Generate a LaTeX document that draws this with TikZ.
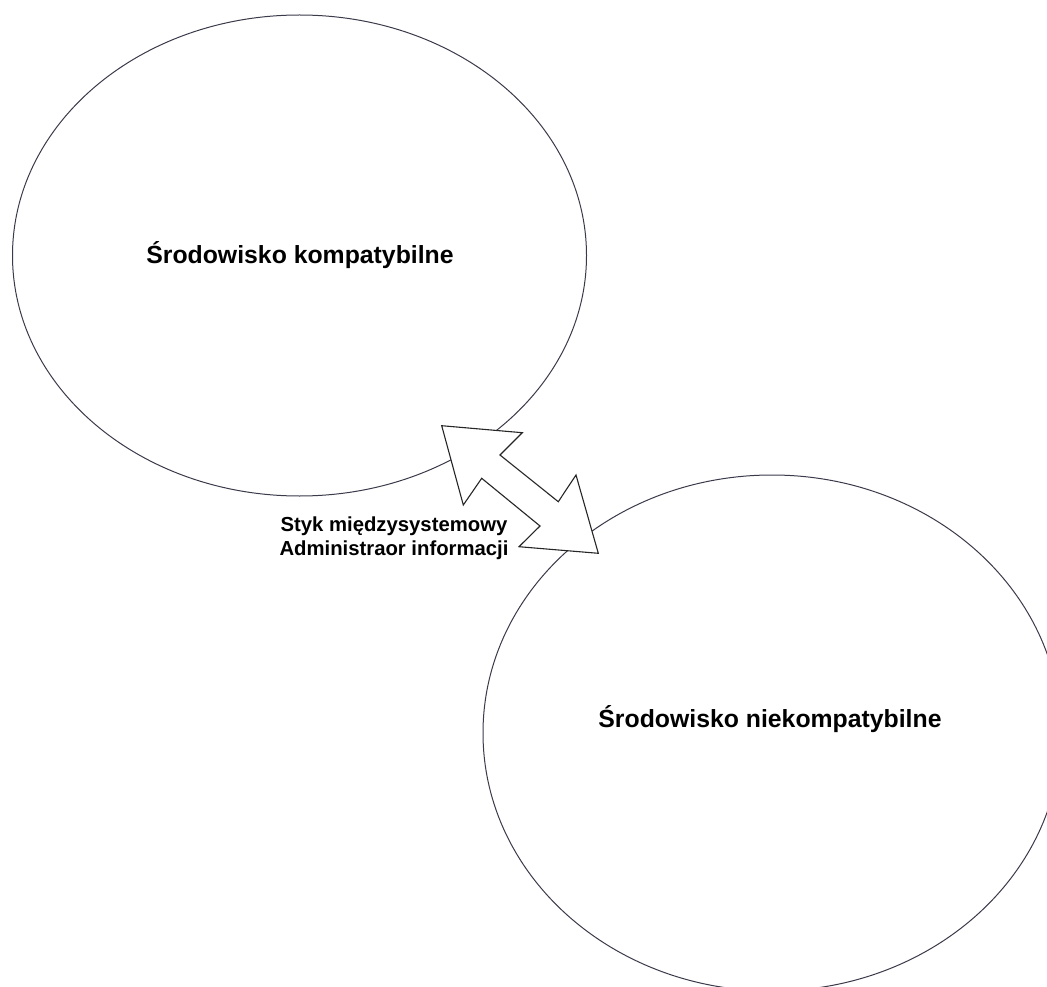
\documentclass[tikz,border=0pt]{standalone}
\usepackage{fontspec}
\setmainfont{Liberation Sans}
\definecolor{inkline}{RGB}{58,58,74}
\begin{document}
\begin{tikzpicture}[x=1pt,y=-1pt,
  outline/.style={draw=inkline, line width=1pt},
  bigtitle/.style={font=\bfseries\fontsize{24.8}{29}\selectfont, anchor=base},
  smalltitle/.style={font=\bfseries\fontsize{20.3}{23.5}\selectfont, align=center},
  blockarrow/.style={draw=black!85, line width=1.1pt, fill=white, line join=miter}]
  \useasboundingbox (0,0) rectangle (1047,987);
  \clip (0,0) rectangle (1047,987);

  % the two environments
  \draw[outline] (299.5,255.5) ellipse [x radius=287pt, y radius=240.5pt];
  \draw[outline] (772,733) ellipse [x radius=289pt, y radius=258pt];

  \node[bigtitle] (compat) at (300,263) {Środowisko kompatybilne};
  \node[bigtitle] (incompat) at (770,727) {Środowisko niekompatybilne};

  % double-headed block arrow between the environments
  \coordinate (tipA) at (441.7,425.7);
  \coordinate (tipB) at (598.3,553.3);
  \draw[blockarrow] (tipA) -- (522.3,432.7) -- (500,455) -- (558.3,501.7)
    -- (576,475) -- (tipB) -- (519,546.7) -- (540,526) -- (481.7,478.3)
    -- (463.3,505) -- cycle;

  \node[smalltitle] (iface) at (394,538) {Styk międzysystemowy\\Administraor informacji};
\end{tikzpicture}
\end{document}
